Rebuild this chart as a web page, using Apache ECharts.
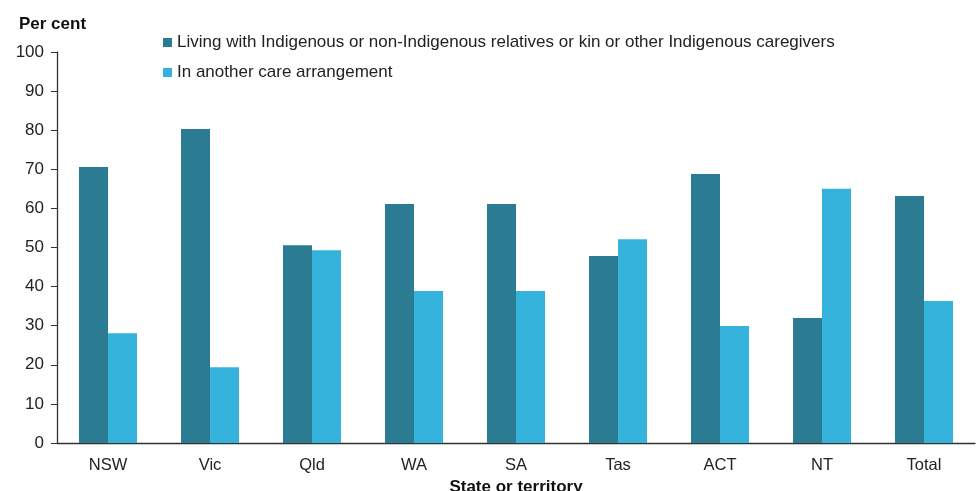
<!DOCTYPE html>
<html><head><meta charset="utf-8">
<script src="https://cdn.jsdelivr.net/npm/echarts@6/dist/echarts.min.js"></script>
<style>html,body{margin:0;padding:0;background:#fff}#c{width:978px;height:491px}</style>
</head><body><div id="c"></div>
<script>
const categories = ['NSW','Vic','Qld','WA','SA','Tas','ACT','NT','Total'];
const kinValues = [70.6, 80.3, 50.6, 61.1, 61.1, 47.8, 68.8, 32.0, 63.2];
const otherValues = [28.1, 19.4, 49.3, 38.9, 38.9, 52.1, 29.9, 65.0, 36.3];
const seriesNames = ['Living with Indigenous or non-Indigenous relatives or kin or other Indigenous caregivers','In another care arrangement'];
const yTicks = [0,10,20,30,40,50,60,70,80,90,100];

const chart = echarts.init(document.getElementById('c'));
const font = 'Arial, "Liberation Sans", sans-serif';
chart.setOption({
  animation:false,
  textStyle:{fontFamily:font},
  legend:{
    orient:'vertical', left:158, top:29, itemWidth:9, itemHeight:9, itemGap:13,
    icon:'rect',
    textStyle:{fontSize:17, color:'#222', fontFamily:font},
    data:seriesNames
  },
  grid:{left:57, right:3, top:52, bottom:48, containLabel:false, outerBoundsMode:'none'},
  xAxis:{
    type:'category', data:categories,
    axisLine:{lineStyle:{color:'#333', width:1.3}},
    axisTick:{show:false},
    axisLabel:{fontSize:16.5, color:'#222', margin:14, fontFamily:font},
    name:'State or territory', nameLocation:'middle', nameGap:36,
    nameTextStyle:{fontSize:17, fontWeight:'bold', color:'#111', fontFamily:font}
  },
  yAxis:{
    type:'value', min:0, max:100, interval:10,
    axisLine:{show:true, lineStyle:{color:'#333', width:1.3}},
    axisTick:{show:true, length:6, lineStyle:{color:'#333'}},
    splitLine:{show:false},
    axisLabel:{fontSize:17, color:'#222', margin:13, fontFamily:font,
      formatter:v => yTicks.includes(v) ? String(v) : ''},
    name:'Per cent', nameLocation:'end', nameGap:19,
    nameTextStyle:{fontSize:17, fontWeight:'bold', color:'#111', align:'center', padding:[0,9,0,0], fontFamily:font}
  },
  series:[
    {name:seriesNames[0], type:'bar', data:kinValues, barWidth:29, barGap:'0%', itemStyle:{color:'#2B7B93'}},
    {name:seriesNames[1], type:'bar', data:otherValues, barWidth:29, itemStyle:{color:'#36B3DD'}}
  ]
});
</script></body></html>
